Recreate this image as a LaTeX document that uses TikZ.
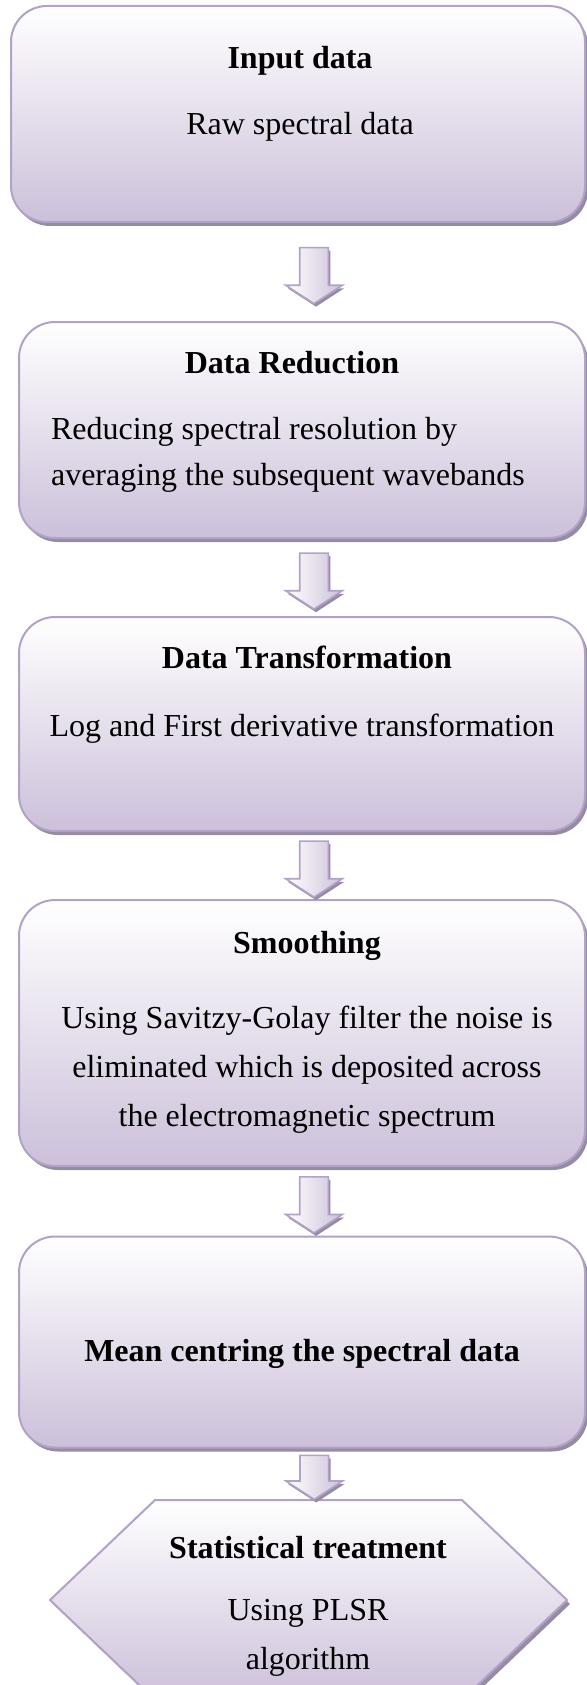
\documentclass[tikz,border=0pt]{standalone}
\usepackage{fontspec}
\setmainfont{Liberation Serif}
\usepackage{tikz}
\usetikzlibrary{positioning,calc,shadows,shapes.arrows}
\definecolor{flLine}{RGB}{178,162,199}
\definecolor{flFill}{RGB}{204,192,218}
\definecolor{flShadow}{RGB}{150,140,162}

\begin{document}
\begin{tikzpicture}[x=0.5pt, y=-0.5pt,
  font=\fontsize{16}{22.5}\selectfont,
  stagebox/.style={draw=flLine, line width=1pt, rounded corners=18pt,
    top color=white, bottom color=flFill, minimum width=283pt,
    minimum height=108pt, inner sep=0pt, outer sep=0pt,
    drop shadow={shadow xshift=1.5pt, shadow yshift=-2pt, fill=flShadow, opacity=1}},
  hexface/.style={draw=flLine, line width=1pt, top color=white, bottom color=flFill,
    drop shadow={shadow xshift=1.5pt, shadow yshift=-2pt, fill=flShadow, opacity=1}},
  flowarrow/.style={single arrow, draw=flLine, line width=0.8pt, rotate=-90,
    left color=white, right color=flFill, minimum height=28pt,
    minimum width=27.5pt, inner xsep=0pt, inner ysep=6.75pt,
    single arrow head extend=7pt, single arrow tip angle=114,
    drop shadow={shadow xshift=1pt, shadow yshift=-1.5pt, fill=flShadow, opacity=1}},
  steptitle/.style={font=\fontsize{16}{22.5}\selectfont\bfseries},
  steptext/.style={align=center}]
  \useasboundingbox (0,0) rectangle (587,1685);

  % Input data
  \node[stagebox, minimum width=287pt] (inp) at (298,114) {};
  \node[steptitle] (inpT) at (300,61) {Input data};
  \node[steptext] (inpD) at (300,127) {Raw spectral data};

  % Data reduction
  \node[stagebox] (red) at (302,430) {};
  \node[steptitle] (redT) at (292,363) {Data Reduction};
  \node[steptext, align=left, anchor=west, font=\fontsize{16}{23}\selectfont] (redD) at (44,455) {Reducing spectral resolution by\\averaging the subsequent wavebands};

  % Data transformation
  \node[stagebox, minimum height=107pt] (trf) at (302,724) {};
  \node[steptitle] (trfT) at (307,657) {Data Transformation};
  \node[steptext] (trfD) at (302,729) {Log and First derivative transformation};

  % Smoothing
  \node[stagebox, minimum height=133pt] (smo) at (302,1033) {};
  \node[steptitle] (smoT) at (307,946) {Smoothing};
  \node[steptext, font=\fontsize{16}{24.5}\selectfont] (smoD) at (307,1070) {Using Savitzy-Golay filter the noise is\\eliminated which is deposited across\\the electromagnetic spectrum};

  % Mean centring
  \node[stagebox, minimum height=105.5pt] (mc) at (302,1342) {};
  \node[steptitle] (mcT) at (302,1354) {Mean centring the spectral data};

  % Statistical treatment (hexagon drawn round an empty frame node)
  \node[minimum width=258.5pt, minimum height=100pt, inner sep=0pt, outer sep=0pt] (stat) at (308.5,1600) {};
  \path[hexface] (stat.west) -- ($(stat.north west)+(105,0)$) -- ($(stat.north east)+(-105,0)$)
    -- (stat.east) -- ($(stat.south east)+(-105,0)$) -- ($(stat.south west)+(105,0)$) -- cycle;
  \node[steptitle] (statT) at (308,1548) {Statistical treatment};
  \node[steptext, font=\fontsize{16}{24.5}\selectfont] (statD) at (308,1638) {Using PLSR\\algorithm};

  % Block arrows between the stages
  \foreach \a/\b/\dx/\len in {inp/red/14/28pt, red/trf/12/28pt, trf/smo/12/28pt, smo/mc/12/28pt, mc/stat/9/22pt}
    \node[flowarrow, minimum height=\len] (a-\a) at ($(\a.south)!0.5!(\b.north) + (\dx,-1)$) {};
\end{tikzpicture}
\end{document}
